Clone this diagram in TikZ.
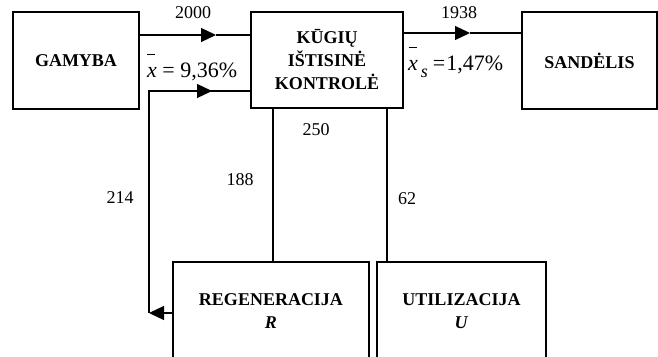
\documentclass[tikz,border=0pt]{standalone}
\usepackage{fontspec}
\setmainfont{Liberation Serif}
\usetikzlibrary{arrows.meta}
\newcommand{\barx}[1]{\makebox[0pt][l]{\hspace{#1}\raisebox{22pt}{\rule{8pt}{1.3pt}}}\textit{x}}
\begin{document}
\begin{tikzpicture}[x=1pt,y=-1pt,
  box/.style={draw,line width=1.3pt,align=center,inner sep=0pt,
    font=\bfseries\fontsize{18}{23}\selectfont},
  lbl/.style={font=\fontsize{18}{21}\selectfont,inner sep=0pt},
  mth/.style={font=\fontsize{22}{26}\selectfont,inner sep=0pt,anchor=base west},
  conn/.style={line width=1.3pt},
  tip/.style={conn,-{Triangle[length=15pt,width=14pt]}}]
\clip (0,0) rectangle (658,356);
\node[box,minimum width=126pt,minimum height=97pt] (g) at (76,60.5) {GAMYBA};
\node[box,minimum width=152pt,minimum height=96pt] (k) at (327,60) {KŪGIŲ\\IŠTISINĖ\\KONTROLĖ};
\node[box,minimum width=135pt,minimum height=97pt] (s) at (589.5,60.5) {SANDĖLIS};
\node[box,minimum width=196pt,minimum height=98pt] (r) at (271,311) {REGENERACIJA\\\textit{R}};
\node[box,minimum width=169pt,minimum height=98pt] (u) at (461.5,311) {UTILIZACIJA\\\textit{U}};
% top flows
\coordinate (a1) at (216,35);
\draw[tip] (g.east |- a1) -- (a1);
\draw[conn] (a1) -- (k.west |- a1);
\coordinate (a2) at (470,33);
\draw[tip] (k.east |- a2) -- (a2);
\draw[conn] (a2) -- (s.west |- a2);
% return loop
\coordinate (c1) at (149,313);
\coordinate (c2) at (149,91);
\coordinate (a3) at (212,91);
\draw[tip] (r.west |- c1) -- (c1);
\draw[conn] (c1) -- (c2) -- (a3);
\draw[tip] (c2) -- (a3);
\draw[conn] (a3) -- (k.west |- a3);
% vertical links
\draw[conn] (k.south -| 273,0) -- (r.north -| 273,0);
\draw[conn] (k.south -| 387,0) -- (u.north -| 387,0);
% labels
\node[lbl] (l2000) at (193,13) {2000};
\node[lbl] (l1938) at (459,13) {1938};
\node[lbl] (l250) at (316,130) {250};
\node[lbl] (l188) at (240,180) {188};
\node[lbl] (l214) at (120,198) {214};
\node[lbl] (l62) at (407,199) {62};
\node[mth] (xm) at (147,77) {\barx{0pt} = 9,36\%};
\node[mth] (xs) at (408,70) {\barx{1pt}\hspace{3pt}\raisebox{-7pt}{\fontsize{18}{18}\selectfont\textit{s}}\hspace{5pt}=\hspace{1pt}1,47\%};
\end{tikzpicture}
\end{document}
